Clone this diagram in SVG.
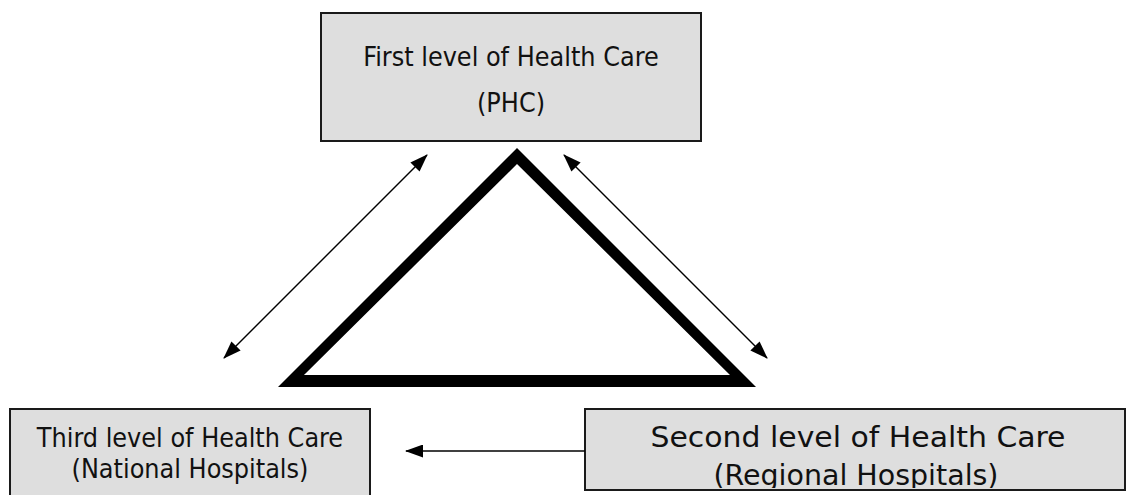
<svg xmlns="http://www.w3.org/2000/svg" width="1127" height="495" viewBox="0 0 1127 495">
  <style>
    .box { fill: #dedede; stroke: #1a1a1a; stroke-width: 2; }
    .label { font-family: "DejaVu Sans Condensed", "DejaVu Sans", sans-serif; font-size: 26.7px; fill: #111; text-anchor: middle; }
    .wide { font-size: 29px; }
    .link { stroke: #000; stroke-width: 1.4; fill: none; }
  </style>
  <defs>
    <marker id="head" viewBox="0 0 18 13" refX="17" refY="6.5" markerWidth="18" markerHeight="13" markerUnits="userSpaceOnUse" orient="auto-start-reverse">
      <path d="M0,0 L18,6.5 L0,13 Z" fill="#000"/>
    </marker>
    <clipPath id="clip-second">
      <rect x="585" y="409" width="540" height="79"/>
    </clipPath>
  </defs>

  <rect width="1127" height="495" fill="#fff"/>

  <!-- thick outlined triangle in the middle -->
  <path id="triangle" fill="#000" fill-rule="evenodd"
        d="M517,148 L756,387 L278,387 Z M517,164 L730,375 L304,375 Z"/>

  <g id="first-level">
    <rect class="box" x="321" y="13" width="380" height="128"/>
    <text class="label" x="511" y="66">First level of Health Care</text>
    <text class="label" x="511" y="112">(PHC)</text>
  </g>

  <g id="third-level">
    <rect class="box" x="10" y="409" width="360" height="100"/>
    <text class="label" x="190" y="447">Third level of Health Care</text>
    <text class="label" x="190" y="478">(National Hospitals)</text>
  </g>

  <g id="second-level">
    <rect class="box" x="585" y="409" width="540" height="81"/>
    <g clip-path="url(#clip-second)">
      <text class="label wide" x="858" y="447" textLength="415" lengthAdjust="spacingAndGlyphs">Second level of Health Care</text>
      <text class="label wide" x="856" y="485" textLength="285" lengthAdjust="spacingAndGlyphs">(Regional Hospitals)</text>
    </g>
  </g>

  <g id="connectors">
    <line class="link" x1="224" y1="358" x2="427" y2="155" marker-start="url(#head)" marker-end="url(#head)"/>
    <line class="link" x1="564" y1="155" x2="767" y2="358" marker-start="url(#head)" marker-end="url(#head)"/>
    <line class="link" x1="585" y1="451" x2="406" y2="451" marker-end="url(#head)"/>
  </g>
</svg>
